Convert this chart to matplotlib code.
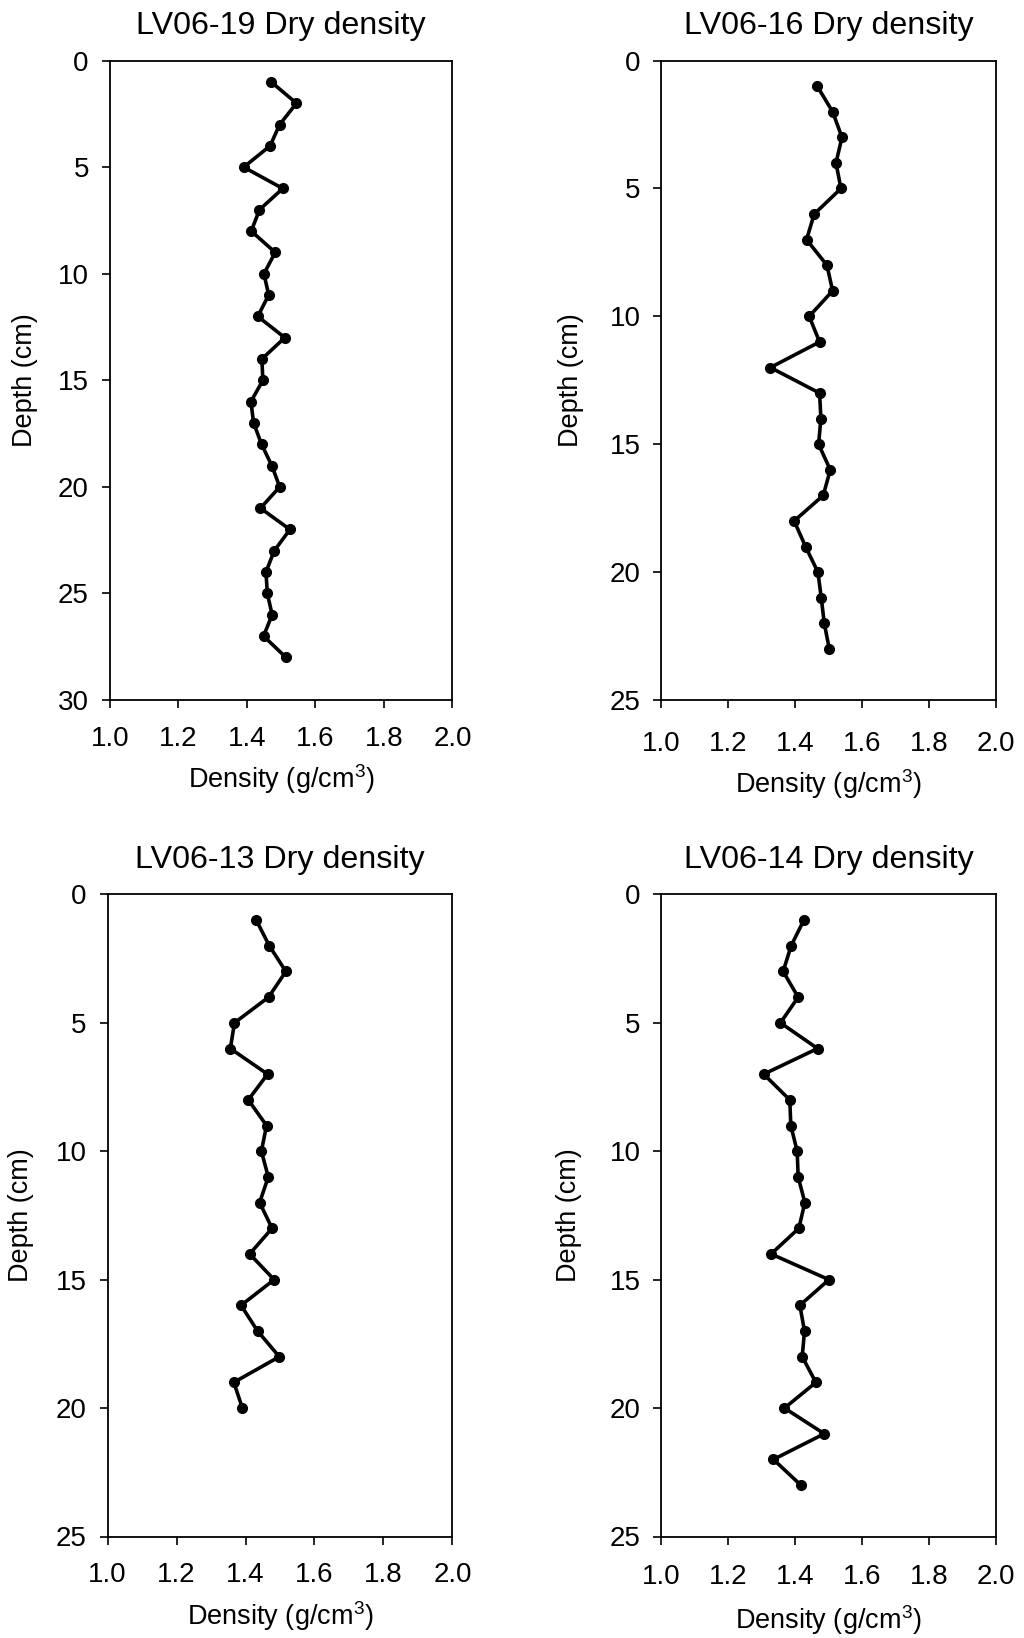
import matplotlib
matplotlib.use("Agg")
import matplotlib.pyplot as plt
import numpy as np

plt.rcParams['font.family'] = ['Liberation Sans', 'DejaVu Sans']
plt.rcParams['mathtext.fontset'] = 'custom'
plt.rcParams['mathtext.rm'] = 'Liberation Sans'
plt.rcParams['mathtext.it'] = 'Liberation Sans'

# Dry density profiles (g/cm3) at 1 cm depth steps
depth_19 = list(range(1, 29))
dens_19 = [1.471, 1.545, 1.496, 1.468, 1.391, 1.505, 1.437, 1.413, 1.483, 1.450,
           1.464, 1.432, 1.511, 1.444, 1.447, 1.412, 1.420, 1.443, 1.473, 1.496,
           1.440, 1.526, 1.480, 1.456, 1.460, 1.474, 1.449, 1.514]

depth_16 = list(range(1, 24))
dens_16 = [1.466, 1.512, 1.540, 1.522, 1.537, 1.457, 1.434, 1.495, 1.512, 1.442,
           1.473, 1.326, 1.473, 1.477, 1.470, 1.505, 1.484, 1.397, 1.431, 1.468,
           1.478, 1.487, 1.502]

depth_13 = list(range(1, 21))
dens_13 = [1.431, 1.469, 1.517, 1.467, 1.368, 1.356, 1.464, 1.408, 1.461, 1.446,
           1.466, 1.441, 1.477, 1.412, 1.483, 1.387, 1.435, 1.498, 1.366, 1.391]

depth_14 = list(range(1, 24))
dens_14 = [1.426, 1.388, 1.364, 1.409, 1.356, 1.467, 1.306, 1.384, 1.387, 1.406,
           1.409, 1.429, 1.411, 1.328, 1.501, 1.414, 1.428, 1.421, 1.462, 1.368,
           1.487, 1.335, 1.417]

titles = ["LV06-19 Dry density", "LV06-16 Dry density",
          "LV06-13 Dry density", "LV06-14 Dry density"]
max_depths = [30, 25, 25, 25]
x_ticks = [1.0, 1.2, 1.4, 1.6, 1.8, 2.0]

W, H = 1024, 1638
fig = plt.figure(figsize=(W / 100, H / 100), dpi=100)

# axes boxes in pixels: left, right, top, bottom
boxes = [(109.7, 452.4, 60.6, 700.0),
         (661.4, 995.8, 60.6, 700.0),
         (107.6, 452.4, 894.4, 1536.5),
         (661.4, 995.8, 894.4, 1536.5)]
# per-panel spacing: x tick pad, x label pad, y label pad
spacing = [(12.5, 7.5, 14), (16, 7.5, 18.5), (12.5, 8, 16), (14, 9, 20)]

series = [(dens_19, depth_19), (dens_16, depth_16),
          (dens_13, depth_13), (dens_14, depth_14)]

for (l, r, t, b), (xs, ys), title, dmax, (xpad, xlp, ylp) in zip(
        boxes, series, titles, max_depths, spacing):
    ax = fig.add_axes([l / W, 1 - b / H, (r - l) / W, (b - t) / H])
    ax.plot(xs, ys, color='black', lw=2.6, marker='o', ms=7,
            markerfacecolor='black', markeredgecolor='black')
    ax.set_xlim(1.0, 2.0)
    ax.set_ylim(dmax, 0)
    ax.set_xticks(x_ticks)
    ax.set_xticklabels([f"{v:.1f}" for v in x_ticks])
    ax.set_yticks(np.arange(0, dmax + 1, 5))
    ax.tick_params(direction='out', length=6, width=1.2, labelsize=20, pad=9,
                   colors='black')
    ax.tick_params(axis='x', pad=xpad)
    for s in ax.spines.values():
        s.set_linewidth(1.3)
    ax.set_title(title, fontsize=23.2, pad=19)
    ax.set_xlabel('Density (g/cm$^{3}$)', fontsize=19.5, labelpad=xlp)
    ax.set_ylabel('Depth (cm)', fontsize=19.5, labelpad=ylp)

fig.savefig('out.png', dpi=100, facecolor='white')
